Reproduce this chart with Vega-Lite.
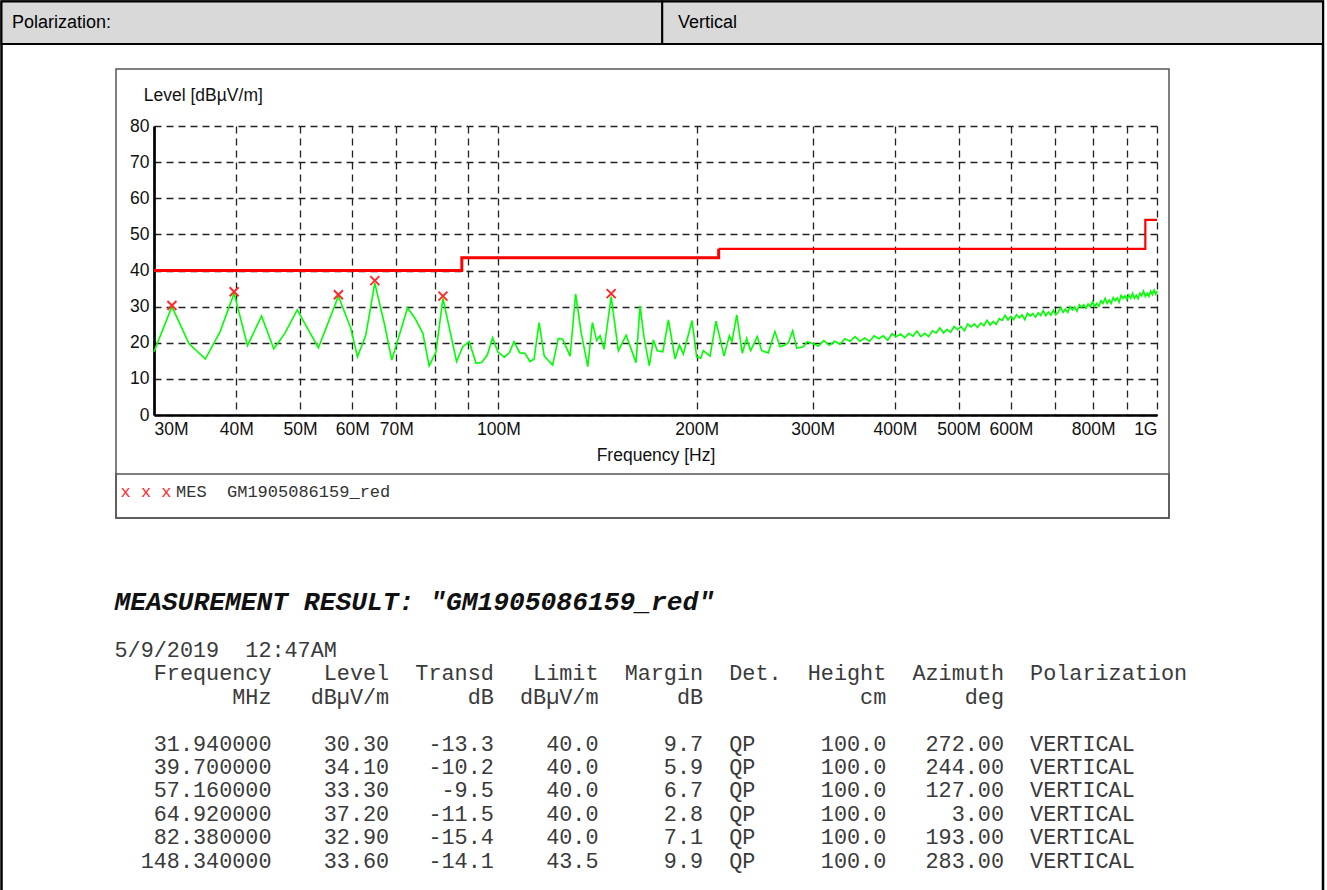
{
  "$schema": "https://vega.github.io/schema/vega-lite/v6.json",
  "width": 1003,
  "height": 289,
  "autosize": {"type": "none"},
  "padding": {"left": 154, "top": 126, "right": 170, "bottom": 475},
  "background": "white",
  "config": {"view": {"stroke": null}, "font": "Liberation Sans"},
  "datasets": {
    "limit1": [{"f": 30, "level": 40}, {"f": 88, "level": 43.5}, {"f": 216, "level": 46}],
    "limit2": [{"f": 216, "level": 46}, {"f": 960, "level": 54}, {"f": 1000, "level": 54}],
    "peaks": [
      {"f": 31.94, "level": 30.3}, {"f": 39.7, "level": 34.1}, {"f": 57.16, "level": 33.3},
      {"f": 64.92, "level": 37.2}, {"f": 82.38, "level": 32.9}, {"f": 148.34, "level": 33.6}
    ],
    "trace": [
      {"f": 30.0, "level": 17.5}, {"f": 31.94, "level": 30.0}, {"f": 33.9, "level": 19.8}, {"f": 35.9, "level": 15.5},
      {"f": 37.8, "level": 23.1}, {"f": 39.7, "level": 33.7}, {"f": 41.6, "level": 19.2}, {"f": 43.7, "level": 27.4},
      {"f": 45.6, "level": 18.3}, {"f": 47.4, "level": 22.6}, {"f": 49.5, "level": 29.1}, {"f": 53.3, "level": 18.6},
      {"f": 57.16, "level": 32.9}, {"f": 59.7, "level": 24.0}, {"f": 61.1, "level": 16.1}, {"f": 62.9, "level": 22.1},
      {"f": 64.92, "level": 36.5}, {"f": 67.1, "level": 25.4}, {"f": 68.9, "level": 15.2}, {"f": 72.8, "level": 29.7},
      {"f": 74.7, "level": 26.8}, {"f": 76.8, "level": 22.6}, {"f": 78.5, "level": 13.6}, {"f": 80.4, "level": 17.5},
      {"f": 82.38, "level": 32.3}, {"f": 86.4, "level": 14.8}, {"f": 88.3, "level": 18.9}, {"f": 90.3, "level": 20.3},
      {"f": 92.5, "level": 14.3}, {"f": 94.3, "level": 14.5}, {"f": 96.2, "level": 16.6}, {"f": 98.0, "level": 21.4},
      {"f": 99.8, "level": 17.5}, {"f": 102.1, "level": 16.0}, {"f": 103.9, "level": 17.2}, {"f": 105.6, "level": 20.3},
      {"f": 107.8, "level": 17.2}, {"f": 109.7, "level": 17.1}, {"f": 111.7, "level": 14.8}, {"f": 113.3, "level": 15.5},
      {"f": 115.3, "level": 25.6}, {"f": 117.4, "level": 16.3}, {"f": 120.9, "level": 13.8}, {"f": 123.3, "level": 21.2},
      {"f": 125.2, "level": 21.0}, {"f": 128.5, "level": 16.3}, {"f": 131.0, "level": 33.5}, {"f": 133.5, "level": 23.1},
      {"f": 136.7, "level": 13.4}, {"f": 138.9, "level": 25.6}, {"f": 141.0, "level": 20.6}, {"f": 142.7, "level": 21.9},
      {"f": 144.7, "level": 18.2}, {"f": 148.34, "level": 32.8}, {"f": 152.1, "level": 17.8}, {"f": 156.3, "level": 22.1},
      {"f": 161.8, "level": 14.5}, {"f": 164.1, "level": 30.2}, {"f": 166.4, "level": 21.5}, {"f": 169.5, "level": 13.6},
      {"f": 171.9, "level": 20.8}, {"f": 174.3, "level": 17.8}, {"f": 177.7, "level": 17.5}, {"f": 181.2, "level": 26.3},
      {"f": 185.5, "level": 15.5}, {"f": 188.3, "level": 19.4}, {"f": 190.9, "level": 16.9}, {"f": 196.8, "level": 26.1},
      {"f": 200.0, "level": 16.1}, {"f": 202.9, "level": 15.7}, {"f": 204.7, "level": 17.8}, {"f": 209.6, "level": 16.3},
      {"f": 214.0, "level": 26.0}, {"f": 220.1, "level": 16.3}, {"f": 224.2, "level": 21.9}, {"f": 226.3, "level": 20.3},
      {"f": 230.1, "level": 27.7}, {"f": 234.6, "level": 17.1}, {"f": 238.2, "level": 21.2}, {"f": 241.6, "level": 17.8},
      {"f": 247.2, "level": 21.7}, {"f": 251.1, "level": 17.8}, {"f": 256.9, "level": 17.2}, {"f": 263.0, "level": 23.1},
      {"f": 267.7, "level": 18.9}, {"f": 272.4, "level": 19.4}, {"f": 275.6, "level": 20.0}, {"f": 279.8, "level": 23.3},
      {"f": 283.8, "level": 18.5}, {"f": 290.4, "level": 18.9}, {"f": 294.5, "level": 20.3},
      {"f": 300, "level": 19.8}, {"f": 306, "level": 19.1}, {"f": 312, "level": 20.6}, {"f": 318, "level": 19.3},
      {"f": 324, "level": 20.4}, {"f": 330, "level": 19.6}, {"f": 336, "level": 21.1}, {"f": 342, "level": 20.4},
      {"f": 348, "level": 21.7}, {"f": 354, "level": 20.4}, {"f": 360, "level": 21.3}, {"f": 366, "level": 20.4},
      {"f": 372, "level": 21.9}, {"f": 378, "level": 21.1}, {"f": 384, "level": 21.9}, {"f": 390, "level": 20.7},
      {"f": 396, "level": 22.5}, {"f": 402, "level": 21.7}, {"f": 408, "level": 22.4}, {"f": 414, "level": 21.4},
      {"f": 420, "level": 22.6}, {"f": 426, "level": 21.8}, {"f": 432, "level": 23.2}, {"f": 438, "level": 21.7},
      {"f": 444, "level": 22.6}, {"f": 450, "level": 21.7}, {"f": 456, "level": 23.3}, {"f": 462, "level": 22.7},
      {"f": 468, "level": 24.1}, {"f": 474, "level": 22.7}, {"f": 480, "level": 23.7}, {"f": 486, "level": 22.9},
      {"f": 492, "level": 24.5}, {"f": 498, "level": 23.6}, {"f": 504, "level": 24.5}, {"f": 510, "level": 23.3},
      {"f": 516, "level": 25.2}, {"f": 522, "level": 24.4}, {"f": 528, "level": 25.2}, {"f": 534, "level": 24.2},
      {"f": 540, "level": 25.5}, {"f": 546, "level": 24.7}, {"f": 552, "level": 26.2}, {"f": 558, "level": 24.9},
      {"f": 564, "level": 25.9}, {"f": 570, "level": 25.1}, {"f": 576, "level": 26.7}, {"f": 582, "level": 26.2},
      {"f": 588, "level": 27.6}, {"f": 594, "level": 26.3}, {"f": 600, "level": 27.3}, {"f": 606, "level": 26.4},
      {"f": 612, "level": 27.8}, {"f": 618, "level": 26.9}, {"f": 624, "level": 27.7}, {"f": 630, "level": 26.4},
      {"f": 636, "level": 28.2}, {"f": 642, "level": 27.4}, {"f": 648, "level": 28.1}, {"f": 654, "level": 27.1},
      {"f": 660, "level": 28.3}, {"f": 666, "level": 27.5}, {"f": 672, "level": 28.9}, {"f": 678, "level": 27.5},
      {"f": 684, "level": 28.5}, {"f": 690, "level": 27.6}, {"f": 696, "level": 29.0}, {"f": 702, "level": 27.7},
      {"f": 708, "level": 28.5}, {"f": 714, "level": 29.8}, {"f": 720, "level": 28.4}, {"f": 726, "level": 29.3},
      {"f": 732, "level": 28.4}, {"f": 738, "level": 30.0}, {"f": 744, "level": 29.1}, {"f": 750, "level": 29.9},
      {"f": 756, "level": 28.7}, {"f": 762, "level": 30.5}, {"f": 768, "level": 29.8}, {"f": 774, "level": 30.5},
      {"f": 780, "level": 29.5}, {"f": 786, "level": 30.7}, {"f": 792, "level": 29.9}, {"f": 798, "level": 31.4},
      {"f": 804, "level": 30.0}, {"f": 810, "level": 30.9}, {"f": 816, "level": 30.1}, {"f": 822, "level": 31.6},
      {"f": 828, "level": 30.9}, {"f": 834, "level": 32.3}, {"f": 840, "level": 30.9}, {"f": 846, "level": 31.8},
      {"f": 852, "level": 30.9}, {"f": 858, "level": 32.5}, {"f": 864, "level": 31.6}, {"f": 870, "level": 32.4},
      {"f": 876, "level": 31.2}, {"f": 882, "level": 33.1}, {"f": 888, "level": 32.3}, {"f": 894, "level": 33.0},
      {"f": 900, "level": 32.0}, {"f": 906, "level": 33.2}, {"f": 912, "level": 32.3}, {"f": 918, "level": 33.7},
      {"f": 924, "level": 32.3}, {"f": 930, "level": 33.2}, {"f": 936, "level": 32.2}, {"f": 942, "level": 33.7},
      {"f": 948, "level": 33.0}, {"f": 954, "level": 34.3}, {"f": 960, "level": 32.8}, {"f": 966, "level": 33.7},
      {"f": 972, "level": 32.8}, {"f": 978, "level": 34.3}, {"f": 984, "level": 33.3}, {"f": 990, "level": 34.6},
      {"f": 996, "level": 33.4}, {"f": 1000, "level": 34.3}
    ],
    "tableLines": [
      {"block": "table", "line": 0, "text": "5/9/2019\u00a0\u00a012:47AM"},
      {"block": "table", "line": 1, "text": "\u200b\u00a0\u00a0\u00a0Frequency\u00a0\u00a0\u00a0\u00a0Level\u00a0\u00a0Transd\u00a0\u00a0\u00a0Limit\u00a0\u00a0Margin\u00a0\u00a0Det.\u00a0\u00a0Height\u00a0\u00a0Azimuth\u00a0\u00a0Polarization"},
      {"block": "table", "line": 2, "text": "\u200b\u00a0\u00a0\u00a0\u00a0\u00a0\u00a0\u00a0\u00a0\u00a0MHz\u00a0\u00a0\u00a0dB\u00b5V/m\u00a0\u00a0\u00a0\u00a0\u00a0\u00a0dB\u00a0\u00a0dB\u00b5V/m\u00a0\u00a0\u00a0\u00a0\u00a0\u00a0dB\u00a0\u00a0\u00a0\u00a0\u00a0\u00a0\u00a0\u00a0\u00a0\u00a0\u00a0\u00a0cm\u00a0\u00a0\u00a0\u00a0\u00a0\u00a0deg"},
      {"block": "table", "line": 4, "text": "\u200b\u00a0\u00a0\u00a031.940000\u00a0\u00a0\u00a0\u00a030.30\u00a0\u00a0\u00a0-13.3\u00a0\u00a0\u00a0\u00a040.0\u00a0\u00a0\u00a0\u00a0\u00a09.7\u00a0\u00a0QP\u00a0\u00a0\u00a0\u00a0\u00a0100.0\u00a0\u00a0\u00a0272.00\u00a0\u00a0VERTICAL"},
      {"block": "table", "line": 5, "text": "\u200b\u00a0\u00a0\u00a039.700000\u00a0\u00a0\u00a0\u00a034.10\u00a0\u00a0\u00a0-10.2\u00a0\u00a0\u00a0\u00a040.0\u00a0\u00a0\u00a0\u00a0\u00a05.9\u00a0\u00a0QP\u00a0\u00a0\u00a0\u00a0\u00a0100.0\u00a0\u00a0\u00a0244.00\u00a0\u00a0VERTICAL"},
      {"block": "table", "line": 6, "text": "\u200b\u00a0\u00a0\u00a057.160000\u00a0\u00a0\u00a0\u00a033.30\u00a0\u00a0\u00a0\u00a0-9.5\u00a0\u00a0\u00a0\u00a040.0\u00a0\u00a0\u00a0\u00a0\u00a06.7\u00a0\u00a0QP\u00a0\u00a0\u00a0\u00a0\u00a0100.0\u00a0\u00a0\u00a0127.00\u00a0\u00a0VERTICAL"},
      {"block": "table", "line": 7, "text": "\u200b\u00a0\u00a0\u00a064.920000\u00a0\u00a0\u00a0\u00a037.20\u00a0\u00a0\u00a0-11.5\u00a0\u00a0\u00a0\u00a040.0\u00a0\u00a0\u00a0\u00a0\u00a02.8\u00a0\u00a0QP\u00a0\u00a0\u00a0\u00a0\u00a0100.0\u00a0\u00a0\u00a0\u00a0\u00a03.00\u00a0\u00a0VERTICAL"},
      {"block": "table", "line": 8, "text": "\u200b\u00a0\u00a0\u00a082.380000\u00a0\u00a0\u00a0\u00a032.90\u00a0\u00a0\u00a0-15.4\u00a0\u00a0\u00a0\u00a040.0\u00a0\u00a0\u00a0\u00a0\u00a07.1\u00a0\u00a0QP\u00a0\u00a0\u00a0\u00a0\u00a0100.0\u00a0\u00a0\u00a0193.00\u00a0\u00a0VERTICAL"},
      {"block": "table", "line": 9, "text": "\u200b\u00a0\u00a0148.340000\u00a0\u00a0\u00a0\u00a033.60\u00a0\u00a0\u00a0-14.1\u00a0\u00a0\u00a0\u00a043.5\u00a0\u00a0\u00a0\u00a0\u00a09.9\u00a0\u00a0QP\u00a0\u00a0\u00a0\u00a0\u00a0100.0\u00a0\u00a0\u00a0283.00\u00a0\u00a0VERTICAL"}
    ]
  },
  "layer": [
    {
      "data": {"values": [{"box": "page"}]},
      "mark": {"type": "rect", "fill": "transparent", "stroke": "black", "strokeWidth": 2.5},
      "encoding": {
        "x": {"field": "box", "type": "nominal", "scale": {"type": "band", "range": [-152.5, 1169], "paddingInner": 0, "paddingOuter": 0}, "axis": null},
        "y": {"field": "box", "type": "nominal", "scale": {"type": "band", "range": [-124.5, 800], "paddingInner": 0, "paddingOuter": 0}, "axis": null}
      }
    },
    {
      "data": {"values": [{"cell": "label", "row": "header"}, {"cell": "value", "row": "header"}]},
      "mark": {"type": "rect", "fill": "#d9d9d9", "stroke": "black", "strokeWidth": 2},
      "encoding": {
        "x": {"field": "cell", "type": "nominal", "scale": {"type": "band", "domain": ["label", "value"], "range": [-152.5, 1169], "paddingInner": 0, "paddingOuter": 0}, "axis": null},
        "y": {"field": "row", "type": "nominal", "scale": {"type": "band", "range": [-124.5, -82], "paddingInner": 0, "paddingOuter": 0}, "axis": null}
      }
    },
    {
      "data": {"values": [{"cell": "label", "row": "header", "text": "Polarization:"}, {"cell": "value", "row": "header", "text": "Vertical"}]},
      "mark": {"type": "text", "align": "left", "baseline": "middle", "font": "Liberation Sans", "fontSize": 18, "color": "black"},
      "encoding": {
        "x": {"field": "cell", "type": "nominal", "scale": {"type": "point", "domain": ["label", "value"], "range": [-142, 524], "padding": 0}, "axis": null},
        "y": {"field": "row", "type": "nominal", "scale": {"type": "band", "range": [-124.5, -82], "paddingInner": 0, "paddingOuter": 0}, "axis": null, "bandPosition": 0.5},
        "text": {"field": "text"}
      }
    },
    {
      "data": {"values": [{"box": "frame"}]},
      "mark": {"type": "rect", "fill": "transparent", "stroke": "#555555", "strokeWidth": 1.5},
      "encoding": {
        "x": {"field": "box", "type": "nominal", "scale": {"type": "band", "range": [-38, 1015], "paddingInner": 0, "paddingOuter": 0}, "axis": null},
        "y": {"field": "box", "type": "nominal", "scale": {"type": "band", "range": [-57, 392], "paddingInner": 0, "paddingOuter": 0}, "axis": null}
      }
    },
    {
      "data": {"values": [{"box": "legend"}]},
      "mark": {"type": "rect", "fill": "transparent", "stroke": "#555555", "strokeWidth": 1.5},
      "encoding": {
        "x": {"field": "box", "type": "nominal", "scale": {"type": "band", "range": [-38, 1015], "paddingInner": 0, "paddingOuter": 0}, "axis": null},
        "y": {"field": "box", "type": "nominal", "scale": {"type": "band", "range": [348, 392], "paddingInner": 0, "paddingOuter": 0}, "axis": null}
      }
    },
    {
      "data": {"values": [{"item": "marks", "box": "legend", "text": "x\u00a0x\u00a0x"}, {"item": "label", "box": "legend", "text": "MES\u00a0\u00a0GM1905086159_red"}]},
      "mark": {"type": "text", "align": "left", "baseline": "alphabetic", "font": "Liberation Mono", "fontSize": 17},
      "encoding": {
        "x": {"field": "item", "type": "nominal", "scale": {"type": "point", "domain": ["marks", "label"], "range": [-33.5, 22], "padding": 0}, "axis": null},
        "y": {"field": "box", "type": "nominal", "scale": {"type": "band", "range": [348, 392], "paddingInner": 0, "paddingOuter": 0}, "axis": null, "bandPosition": 0.523},
        "color": {"field": "item", "type": "nominal", "scale": {"domain": ["marks", "label"], "range": ["#ff2a2a", "#333333"]}, "legend": null},
        "text": {"field": "text"}
      }
    },
    {
      "encoding": {
        "x": {"field": "block", "type": "nominal", "scale": {"type": "point", "range": [-39.5, 1035], "align": 0, "padding": 0}, "axis": null},
        "y": {"field": "line", "type": "quantitative", "scale": {"domain": [-2, 9], "range": [484.2, 741.6], "nice": false, "zero": false}, "axis": null},
        "text": {"field": "text"}
      },
      "layer": [
        {
          "data": {"values": [{"block": "table", "line": -2, "text": "MEASUREMENT RESULT: \"GM1905086159_red\""}]},
          "mark": {"type": "text", "align": "left", "baseline": "alphabetic", "font": "Liberation Mono", "fontSize": 26.3, "fontWeight": "bold", "fontStyle": "italic", "color": "#111111"}
        },
        {
          "data": {"name": "tableLines"},
          "mark": {"type": "text", "align": "left", "baseline": "alphabetic", "font": "Liberation Mono", "fontSize": 21.8, "color": "#3a3a3a"}
        }
      ]
    },
    {
      "encoding": {
        "x": {
          "field": "f", "type": "quantitative",
          "scale": {"type": "log", "domain": [30, 1000], "nice": false},
          "axis": {
            "values": [30, 40, 50, 60, 70, 80, 90, 100, 200, 300, 400, 500, 600, 700, 800, 900, 1000],
            "labelExpr": "(datum.value == 80 || datum.value == 90 || datum.value == 700 || datum.value == 900) ? '' : (datum.value >= 1000 ? '1G' : datum.value + 'M')",
            "title": "Frequency [Hz]",
            "grid": true, "gridDash": [7, 5], "gridColor": "#222222", "gridWidth": 1.3,
            "ticks": false, "domainColor": "black", "domainWidth": 2.7,
            "labelFont": "Liberation Sans", "labelFontSize": 17.5, "labelColor": "#111111", "labelPadding": 5,
            "labelFlush": true, "labelOverlap": false,
            "titleFont": "Liberation Sans", "titleFontSize": 17.5, "titleFontWeight": "normal", "titleColor": "#111111",
            "titleY": 45, "titleBaseline": "alphabetic"
          }
        },
        "y": {
          "field": "level", "type": "quantitative",
          "scale": {"domain": [0, 80], "nice": false, "zero": true},
          "axis": {
            "values": [0, 10, 20, 30, 40, 50, 60, 70, 80],
            "title": "Level [dB\u00b5V/m]",
            "grid": true, "gridDash": [7, 5], "gridColor": "#222222", "gridWidth": 1.3,
            "ticks": false, "domainColor": "black", "domainWidth": 2.7,
            "labelFont": "Liberation Sans", "labelFontSize": 17.5, "labelColor": "#111111", "labelPadding": 5,
            "labelOverlap": false,
            "titleFont": "Liberation Sans", "titleFontSize": 17.5, "titleFontWeight": "normal", "titleColor": "#111111",
            "titleAngle": 0, "titleAlign": "left", "titleBaseline": "alphabetic", "titleX": -10.7, "titleY": -26
          }
        }
      },
      "layer": [
        {"data": {"name": "limit1"}, "mark": {"type": "line", "interpolate": "step-after", "color": "#ff0000", "strokeWidth": 3}},
        {"data": {"name": "limit2"}, "mark": {"type": "line", "interpolate": "step-after", "color": "#ff0000", "strokeWidth": 2.2}},
        {"data": {"name": "trace"}, "mark": {"type": "line", "color": "#00ff00", "strokeWidth": 1.6}},
        {"data": {"name": "peaks"}, "mark": {"type": "point", "shape": "M-1,-1L1,1M1,-1L-1,1", "size": 81, "filled": false, "color": "#ff2a2a", "strokeWidth": 2, "opacity": 1}}
      ]
    }
  ],
  "resolve": {"scale": {"x": "independent", "y": "independent"}}
}
